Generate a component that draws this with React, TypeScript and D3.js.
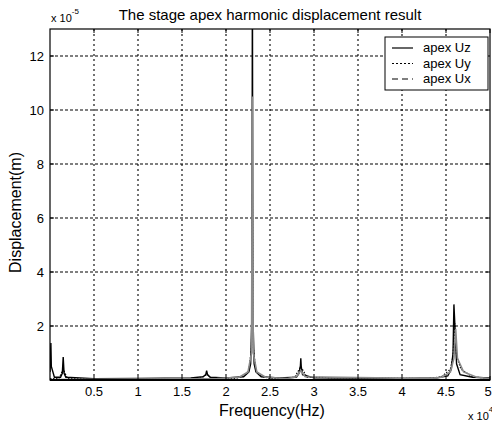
import React from "react";
import * as d3 from "d3";

const xTicks = [0.5, 1, 1.5, 2, 2.5, 3, 3.5, 4, 4.5, 5];
const yTicks = [2, 4, 6, 8, 10, 12];

const freqUz = [0, 0.005, 0.01, 0.015, 0.05, 0.12, 0.14, 0.15, 0.16, 0.18, 0.5, 1.0, 1.6, 1.74, 1.77, 1.78, 1.79, 1.82, 2.0, 2.2, 2.26, 2.28, 2.295, 2.3, 2.305, 2.32, 2.34, 2.4, 2.6, 2.8, 2.83, 2.845, 2.85, 2.855, 2.87, 3.0, 4.0, 4.4, 4.52, 4.56, 4.58, 4.59, 4.6, 4.62, 4.66, 4.8, 5.0];
const valUz = [0.3, 0.8, 1.37, 0.5, 0.1, 0.1, 0.25, 0.85, 0.25, 0.1, 0.05, 0.06, 0.08, 0.12, 0.2, 0.35, 0.2, 0.1, 0.08, 0.12, 0.3, 0.6, 2.5, 16, 2.5, 0.6, 0.3, 0.12, 0.08, 0.1, 0.25, 0.5, 0.8, 0.5, 0.2, 0.08, 0.06, 0.08, 0.15, 0.4, 1.0, 2.8, 2.1, 0.6, 0.2, 0.1, 0.08];

const freqUy = [0, 0.1, 0.15, 0.2, 1.7, 1.78, 1.85, 2.1, 2.2, 2.26, 2.29, 2.3, 2.31, 2.34, 2.4, 2.5, 2.78, 2.85, 2.92, 4.3, 4.45, 4.55, 4.58, 4.6, 4.62, 4.67, 4.8, 5];
const valUy = [0.05, 0.05, 0.4, 0.05, 0.05, 0.2, 0.05, 0.05, 0.15, 0.35, 1.2, 6.9, 1.2, 0.35, 0.15, 0.05, 0.1, 0.5, 0.1, 0.05, 0.12, 0.4, 0.9, 2.1, 0.9, 0.4, 0.12, 0.05];

const freqUx = [0, 1.9, 2.15, 2.25, 2.29, 2.3, 2.31, 2.35, 2.45, 2.7, 2.8, 2.85, 2.9, 4.3, 4.45, 4.55, 4.59, 4.61, 4.63, 4.7, 4.85, 5];
const valUx = [0.02, 0.05, 0.1, 0.3, 1.0, 10.5, 1.0, 0.3, 0.1, 0.05, 0.12, 0.35, 0.12, 0.05, 0.1, 0.3, 0.8, 1.9, 0.8, 0.3, 0.1, 0.05];

const legendLabels = ["apex Uz", "apex Uy", "apex Ux"];

const W = 492, H = 424;
const L = 50, R = 490, T = 29, B = 380;
const FONT = "'Liberation Sans', Arial, sans-serif";

export default function App() {
  const x = d3.scaleLinear().domain([0, 5]).range([L, R]);
  const y = d3.scaleLinear().domain([0, 13]).range([B, T]);
  const mk = (f: number[], v: number[]) =>
    d3.line<number>().x((_, i) => x(f[i])).y((d) => y(d))(v) || "";
  const series = [
    { d: mk(freqUz, valUz), stroke: "#000", dash: undefined as string | undefined, w: 1.4 },
    { d: mk(freqUy, valUy), stroke: "#000", dash: "1.5,1.5", w: 1.2 },
    { d: mk(freqUx, valUx), stroke: "#8a8a8a", dash: undefined as string | undefined, w: 1.6 },
  ];
  const legendDash = [undefined, "2,2", "6,4"];
  return (
    <div style={{ position: "absolute", left: 0, top: 0 }}>
      <svg width={W} height={H} style={{ display: "block", background: "#fff" }} fontFamily={FONT}>
        <defs>
          <clipPath id="plot">
            <rect x={L} y={T} width={R - L} height={B - T} />
          </clipPath>
        </defs>
        {/* grid */}
        {xTicks.filter((t) => t < 5).map((t) => (
          <line key={"gx" + t} x1={x(t)} x2={x(t)} y1={T} y2={B} stroke="#000" strokeWidth={1.1} strokeDasharray="2,3" />
        ))}
        {yTicks.map((t) => (
          <line key={"gy" + t} x1={L} x2={R} y1={y(t)} y2={y(t)} stroke="#000" strokeWidth={1.1} strokeDasharray="3,2" />
        ))}
        {/* data */}
        <g clipPath="url(#plot)" fill="none">
          {series.map((s, i) => (
            <path key={i} d={s.d} stroke={s.stroke} strokeWidth={s.w} strokeDasharray={s.dash} />
          ))}
        </g>
        {/* frame */}
        <rect x={L} y={T} width={R - L} height={B - T} fill="none" stroke="#000" strokeWidth={1.2} />
        <line x1={L} x2={R} y1={B} y2={B} stroke="#000" strokeWidth={2} />
        {/* ticks */}
        {xTicks.map((t) => (
          <g key={"tx" + t}>
            <line x1={x(t)} x2={x(t)} y1={B} y2={B - 4} stroke="#000" />
            <line x1={x(t)} x2={x(t)} y1={T} y2={T + 4} stroke="#000" />
            <text x={t === 5 ? x(t) - 2 : x(t)} y={396} fontSize={13} textAnchor="middle">{t}</text>
          </g>
        ))}
        {yTicks.map((t) => (
          <g key={"ty" + t}>
            <line x1={L} x2={L + 4} y1={y(t)} y2={y(t)} stroke="#000" />
            <line x1={R} x2={R - 4} y1={y(t)} y2={y(t)} stroke="#000" />
            <text x={44} y={y(t) + 4.5} fontSize={13} textAnchor="end">{t}</text>
          </g>
        ))}
        {/* exponents */}
        <text x={51} y={22} fontSize={11}>x 10<tspan dy={-8} fontSize={8}>-5</tspan></text>
        <text x={468} y={420} fontSize={11}>x 10<tspan dy={-8} fontSize={8}>4</tspan></text>
        {/* title and labels */}
        <text x={270} y={20} fontSize={15} textAnchor="middle">The stage apex harmonic displacement result</text>
        <text x={272} y={416} fontSize={16} textAnchor="middle">Frequency(Hz)</text>
        <text transform={`translate(21,${(T + B) / 2 + 8}) rotate(-90)`} fontSize={16} textAnchor="middle">Displacement(m)</text>
        {/* legend */}
        <rect x={385} y={37} width={103} height={53} fill="#fff" stroke="#000" strokeWidth={1} />
        {legendLabels.map((lab, i) => (
          <g key={lab}>
            <line x1={392} x2={413} y1={48 + i * 15.5} y2={48 + i * 15.5} stroke="#000" strokeWidth={1.2} strokeDasharray={legendDash[i]} />
            <text x={423} y={52 + i * 15.5} fontSize={13}>{lab}</text>
          </g>
        ))}
      </svg>
    </div>
  );
}
